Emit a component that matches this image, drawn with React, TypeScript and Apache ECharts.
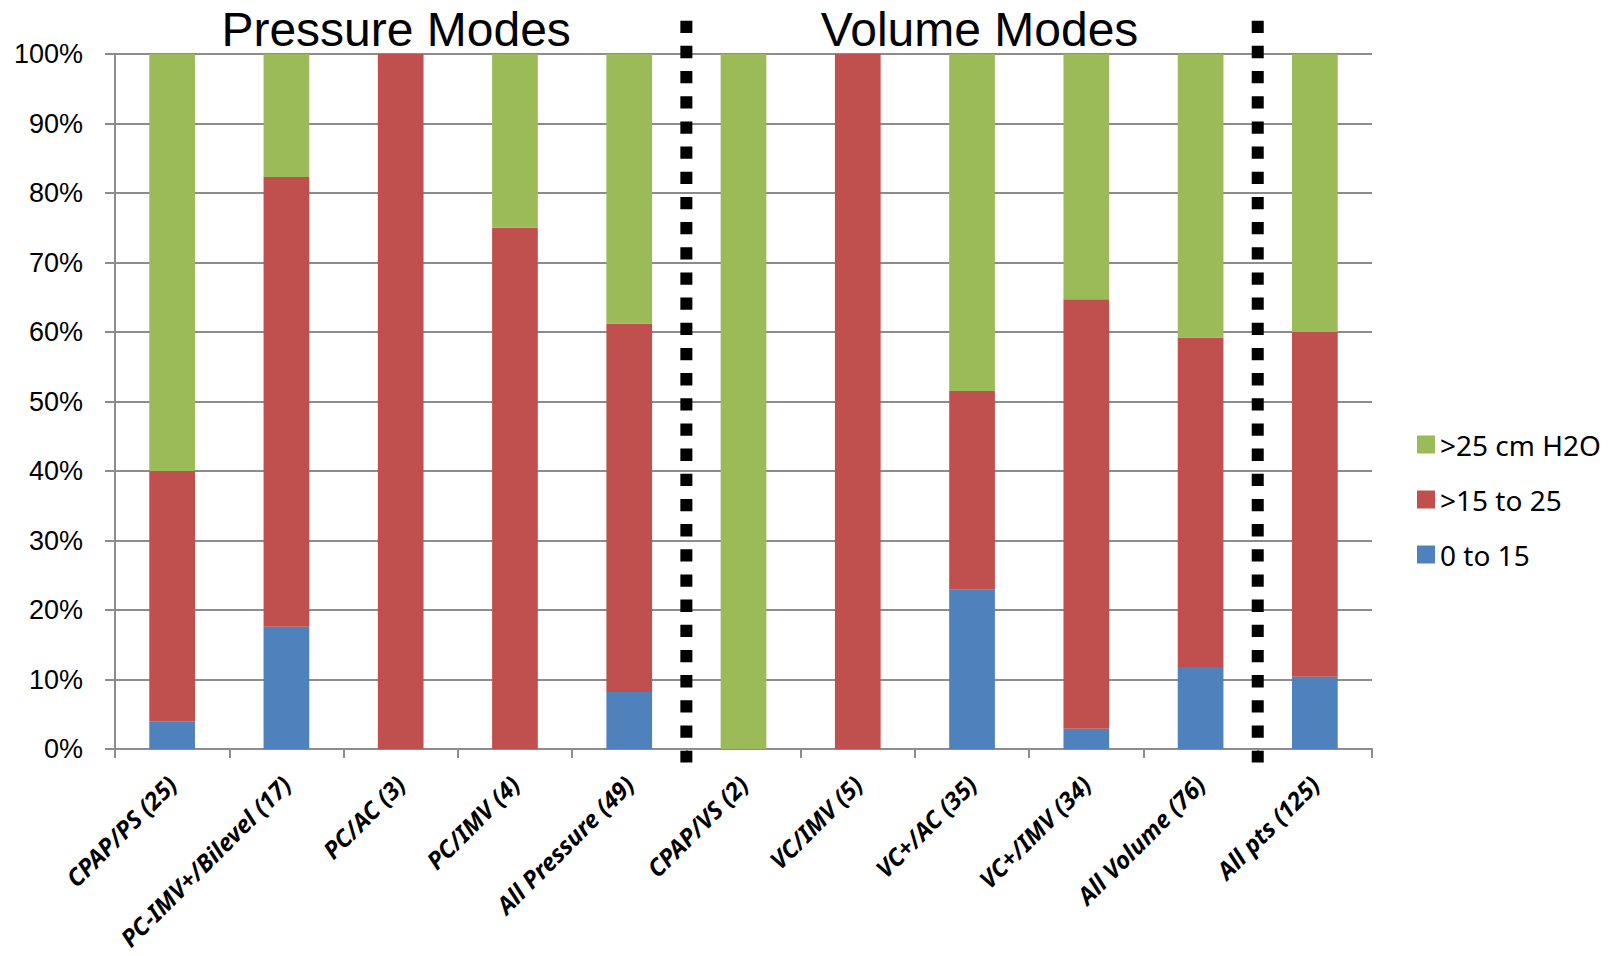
import React, { useEffect, useRef } from "react";
import * as echarts from "echarts";

const categories = [
  "CPAP/PS (25)",
  "PC-IMV+/Bilevel (17)",
  "PC/AC (3)",
  "PC/IMV (4)",
  "All Pressure (49)",
  "CPAP/VS (2)",
  "VC/IMV (5)",
  "VC+/AC (35)",
  "VC+/IMV (34)",
  "All Volume (76)",
  "All pts (125)",
];

const seriesNames = ["0 to 15", ">15 to 25", ">25 cm H2O"];
const low = [4.0, 17.6, 0, 0, 8.2, 0, 0, 22.9, 2.9, 11.8, 10.4];
const mid = [36.0, 64.7, 100, 75.0, 53.0, 0, 100, 28.6, 61.8, 47.4, 49.6];
const high = [60.0, 17.7, 0, 25.0, 38.8, 100, 0, 48.5, 35.3, 40.8, 40.0];
const colors = ["#4F81BD", "#C0504D", "#9BBB59"];

const groupTitles = ["Pressure Modes", "Volume Modes"];
const groupTitleAt = [1.96, 7.066];
const dividersAfter = [4, 9];

const yMin = 0;
const yMax = 100;
const yInterval = 10;

export default function App() {
  const ref = useRef<HTMLDivElement>(null);

  useEffect(() => {
    if (!ref.current) return;
    const chart = echarts.init(ref.current, null, { renderer: "svg" });
    const axisColor = "#8c8c8c";
    const labelFont = "'Liberation Sans', Arial, sans-serif";
    const calibriLike = "'Noto Sans', 'Open Sans', sans-serif";

    chart.setOption({
      animation: false,
      backgroundColor: "#ffffff",
      grid: {
        left: 115,
        right: 244,
        top: 54,
        bottom: 207,
        containLabel: false,
        outerBoundsMode: "none",
      },
      legend: {
        orient: "vertical",
        left: 1412,
        top: 425,
        itemWidth: 18,
        itemHeight: 18,
        itemGap: 26,
        icon: "rect",
        data: [seriesNames[2], seriesNames[1], seriesNames[0]],
        textStyle: { fontFamily: calibriLike, fontSize: 28, lineHeight: 29, color: "#000" },
      },
      xAxis: {
        type: "category",
        data: categories,
        boundaryGap: true,
        axisLine: { show: true, lineStyle: { color: axisColor, width: 2 } },
        axisTick: { show: true, length: 9, lineStyle: { color: axisColor, width: 2 } },
        axisLabel: {
          interval: 0,
          rotate: 45,
          margin: 31,
          color: "#000",
          fontFamily: calibriLike,
          fontWeight: "bold",
          fontStyle: "italic",
          fontSize: 24,
        },
      },
      yAxis: {
        type: "value",
        min: yMin,
        max: yMax,
        interval: yInterval,
        axisLine: { show: true, lineStyle: { color: axisColor, width: 2 } },
        axisTick: { show: true, length: 10, lineStyle: { color: axisColor, width: 2 } },
        splitLine: { show: true, lineStyle: { color: axisColor, width: 2 } },
        axisLabel: {
          margin: 32,
          color: "#000",
          fontFamily: labelFont,
          fontSize: 27,
          formatter: (v: number) => `${v}%`,
        },
      },
      series: [low, mid, high].map((d, i) => ({
        name: seriesNames[i],
        type: "bar",
        stack: "total",
        data: d,
        barWidth: "40%",
        itemStyle: { color: colors[i] },
        emphasis: { disabled: true },
      })),
    });

    const yTop = chart.convertToPixel({ yAxisIndex: 0 }, yMax) as number;
    const yBottom = chart.convertToPixel({ yAxisIndex: 0 }, yMin) as number;
    const c0 = chart.convertToPixel({ xAxisIndex: 0 }, categories[0]) as number;
    const c1 = chart.convertToPixel({ xAxisIndex: 0 }, categories[1]) as number;
    const band = c1 - c0;
    const graphics: any[] = [];
    dividersAfter.forEach((idx) => {
      const x = c0 + (idx + 0.5) * band;
      graphics.push({
        type: "line",
        shape: { x1: x, y1: yTop - 33.3, x2: x, y2: yBottom + 13.6 },
        style: { stroke: "#000", lineWidth: 12, lineDash: [12.3, 12.87], lineCap: "butt" },
        z: 100,
      });
    });
    groupTitles.forEach((t, i) => {
      const x = c0 + groupTitleAt[i] * band;
      graphics.push({
        type: "text",
        x,
        y: yTop - 24.5,
        style: {
          text: t,
          fill: "#000",
          fontFamily: labelFont,
          fontSize: 48,
          textAlign: "center",
          textVerticalAlign: "middle",
        },
        z: 100,
      });
    });
    chart.setOption({ graphic: graphics });

    return () => chart.dispose();
  }, []);

  return (
    <div
      ref={ref}
      style={{ position: "absolute", left: 0, top: 0, width: 1616, height: 956 }}
    />
  );
}
